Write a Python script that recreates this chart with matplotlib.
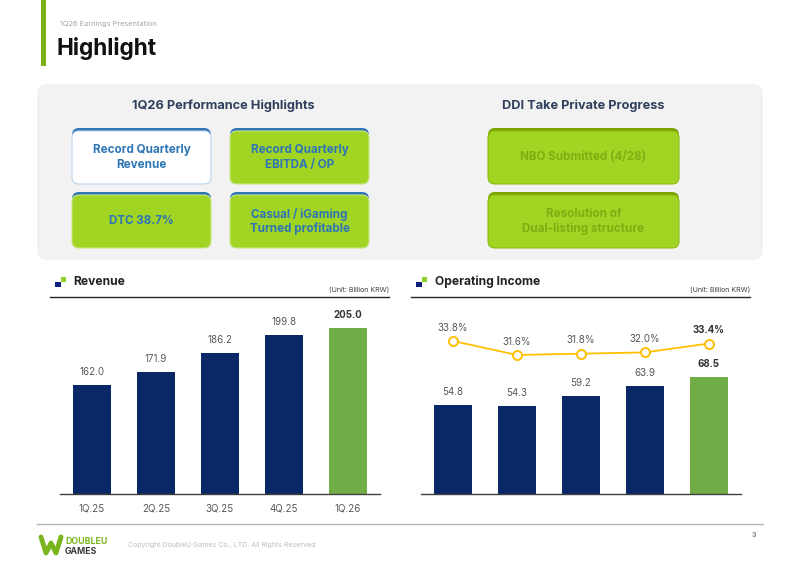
import matplotlib
matplotlib.use("Agg")
import matplotlib.pyplot as plt
from matplotlib.patches import FancyBboxPatch, Rectangle
import numpy as np

plt.rcParams['font.family'] = ['Inter', 'DejaVu Sans']

quarters = ['1Q.25', '2Q.25', '3Q.25', '4Q.25', '1Q.26']
revenue = [162.0, 171.9, 186.2, 199.8, 205.0]
op_income = [54.8, 54.3, 59.2, 63.9, 68.5]
op_margin = [33.8, 31.6, 31.8, 32.0, 33.4]

perf_boxes = ['Record Quarterly\nRevenue', 'Record Quarterly\nEBITDA / OP',
              'DTC 38.7%', 'Casual / iGaming\nTurned profitable']
ddi_boxes = ['NBO Submitted (4/28)', 'Resolution of\nDual-listing structure']

NAVY = '#0a2767'
GREEN = '#70ad47'
LIME = '#a2d424'
BLUE = '#2e75b6'
W, H = 800, 565

fig = plt.figure(figsize=(8, 5.65), dpi=100)
bg = fig.add_axes([0, 0, 1, 1])
bg.set_xlim(0, W)
bg.set_ylim(H, 0)
bg.axis('off')

# title area
bg.add_patch(Rectangle((41, 0), 5, 66, color='#7fb21a', lw=0))
bg.text(60, 24, '1Q26 Earnings Presentation', fontsize=5.3, color='#a6a6a6', va='center')
bg.text(57, 48, 'Highlight', fontsize=16.3, fontweight='bold', color='#111111', va='center')

# grey panel
bg.add_patch(FancyBboxPatch((37, 84), 726, 176, boxstyle='round,pad=0,rounding_size=10',
                            fc='#f2f2f2', ec='none'))
bg.text(223, 106, '1Q26 Performance Highlights', fontsize=9.2, fontweight='bold',
        color='#2f3f5c', ha='center', va='center')
bg.text(583, 106, 'DDI Take Private Progress', fontsize=9.2, fontweight='bold',
        color='#2f3f5c', ha='center', va='center')


def card(x, y, w, h, fc, strip, ec, txt, tc, fs=8.4):
    bg.add_patch(FancyBboxPatch((x, y), w, h, boxstyle='round,pad=0,rounding_size=7',
                                fc=strip, ec='none'))
    bg.add_patch(FancyBboxPatch((x, y + 3), w, h - 3, boxstyle='round,pad=0,rounding_size=7',
                                fc=fc, ec=ec, lw=0.8))
    bg.text(x + w / 2, y + h / 2 + 1.5, txt, fontsize=fs, fontweight='bold', color=tc,
            ha='center', va='center', linespacing=1.25)


pos = [(72, 128), (230, 128), (72, 192), (230, 192)]
for i, (t, (x, y)) in enumerate(zip(perf_boxes, pos)):
    if i == 0:
        card(x, y, 139, 56, 'white', BLUE, '#bdd7ee', t, BLUE)
    else:
        card(x, y, 139, 56, LIME, BLUE, '#c9e685', t, BLUE)

for t, y in zip(ddi_boxes, [128, 192]):
    card(488, y, 191, 56, LIME, '#7ba300', '#8cbd14', t, '#7fae12')


def header(x_icon, x_txt, x0, x1, title):
    bg.add_patch(Rectangle((x_icon, 282), 5.5, 5, color='#0d1f7a', lw=0))
    bg.add_patch(Rectangle((x_icon + 5.5, 277), 5, 5, color='#8cd12a', lw=0))
    bg.text(x_txt, 282, title, fontsize=8.7, fontweight='bold', color='#222222', va='center')
    bg.plot([x0, x1], [297, 297], color='#262626', lw=1)
    bg.text(x1, 290, '(Unit: Billion KRW)', fontsize=5.1, color='#404040', ha='right', va='center')


header(55, 73, 50, 389, 'Revenue')
header(416, 435, 411, 750, 'Operating Income')


def px_axes(left, right, bottom, top):
    return fig.add_axes([left / W, (H - bottom) / H, (right - left) / W, (bottom - top) / H])


colors = [NAVY] * 4 + [GREEN]
x = np.arange(len(quarters))


def label_points(ax, vals, fmt):
    for i, v in enumerate(vals):
        last = i == len(vals) - 1
        ax.annotate(fmt.format(v), (i, v), xytext=(0, 7.5), textcoords='offset points',
                    ha='center', fontsize=7, color='#333333' if last else '#595959',
                    fontweight='bold' if last else 'normal')


# revenue chart
ax1 = px_axes(60, 380, 494, 300)
ax1.bar(x, revenue, width=0.6, color=colors)
ax1.set_xlim(-0.5, 4.5)
ax1.set_ylim(80, 226.3)
label_points(ax1, revenue, '{:.1f}')

# operating income chart
ax2 = px_axes(421, 741, 494, 300)
ax2.bar(x, op_income, width=0.6, color=colors)
ax2.set_xlim(-0.5, 4.5)
ax2.set_ylim(11.3, 106.2)
label_points(ax2, op_income, '{:.1f}')
ax3 = ax2.twinx()
ax3.plot(x, op_margin, color='#ffc000', lw=1.3, marker='o', ms=6.5, mfc='white',
         mec='#ffc000', mew=1.4)
ax3.set_ylim(9.74, 40.24)
label_points(ax3, op_margin, '{:.1f}%')

for ax in (ax1, ax2, ax3):
    for s in ('top', 'right', 'left'):
        ax.spines[s].set_visible(False)
    ax.set_yticks([])
    ax.patch.set_alpha(0)
for ax in (ax1, ax2):
    ax.spines['bottom'].set_color('#404040')
    ax.spines['bottom'].set_linewidth(1)
    ax.set_xticks(x)
    ax.set_xticklabels(quarters, fontsize=7, color='#595959')
    ax.tick_params(axis='x', length=0, pad=7)
ax3.spines['bottom'].set_visible(False)
ax3.set_xticks([])

# footer
bg.plot([37, 763], [524, 524], color='#b3b3b3', lw=1)
bg.plot([41, 46, 51, 56, 61], [537, 553, 543, 553, 537], color='#7ab51d', lw=3.5,
        solid_joinstyle='round', solid_capstyle='round')
bg.text(65, 542, 'DOUBLEU', fontsize=6.3, fontweight='bold', color='#7ab51d', va='center')
bg.text(65, 551, 'GAMES', fontsize=6.3, fontweight='bold', color='#3a3a3a', va='center')
bg.text(128, 545, 'Copyright DoubleU Games Co., LTD. All Rights Reserved', fontsize=5.1,
        color='#bfbfbf', va='center')
bg.text(754, 535, '3', fontsize=5, fontweight='bold', color='#808080', ha='center', va='center')

fig.savefig('out.png', dpi=100)
